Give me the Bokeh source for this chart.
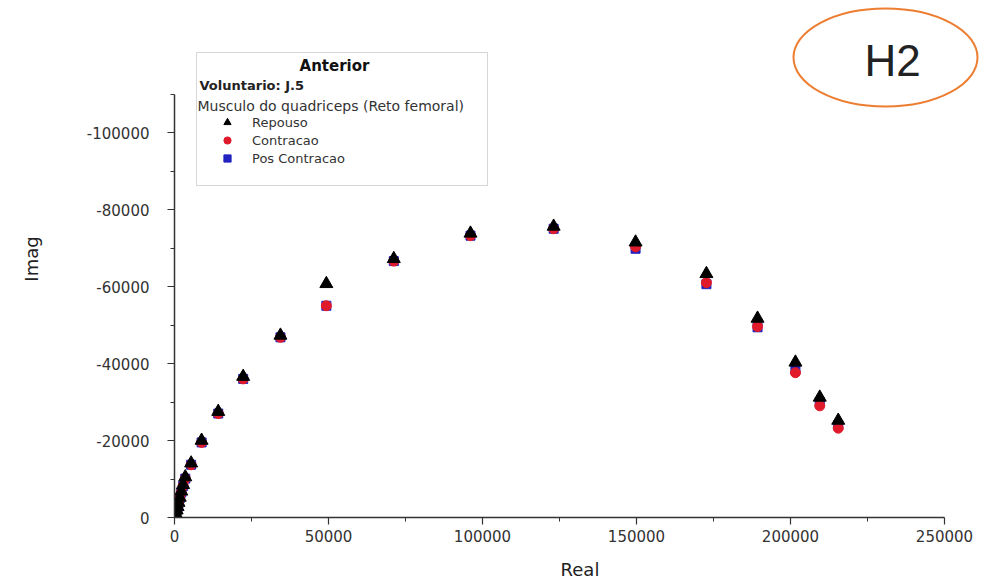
from bokeh.plotting import figure
from bokeh.models import (Range1d, FixedTicker, Legend, LegendItem, Label, BoxAnnotation)
from bokeh.embed import file_html
from bokeh.resources import INLINE

# ---------------- data ----------------
real_values = [150, 400, 700, 1000, 1300, 1700, 2200, 2800, 3500, 5400, 8800, 14200,
               22300, 34400, 49300, 71200, 96100, 123100, 149700, 172700, 189300,
               201600, 209500, 215500]
imag_repouso = [-300, -1000, -1900, -2800, -3900, -5200, -6800, -8500, -10500, -14100,
                -20000, -27500, -36600, -47300, -60700, -67200, -73800, -75600, -71500,
                -63300, -51700, -40300, -31200, -25200]
imag_contracao = [-250, -900, -1800, -2600, -3700, -5000, -6500, -8200, -10100, -13700,
                  -19500, -27000, -36000, -46800, -55000, -66600, -73200, -75000, -70300,
                  -61000, -49600, -37600, -29000, -23200]
imag_pos_contracao = [-250, -900, -1800, -2600, -3700, -5000, -6500, -8200, -10100, -13700,
                      -19500, -27000, -36000, -46800, -55000, -66600, -73200, -75000, -69800,
                      -60600, -49400, -38400, -30000, -24000]

series_names = ["Repouso", "Contracao", "Pos Contracao"]
x_ticks = [0, 50000, 100000, 150000, 200000, 250000]
x_tick_labels = ["0", "50000", "100000", "150000", "200000", "250000"]
x_minor = [25000, 75000, 125000, 175000, 225000]
y_ticks = [0, -20000, -40000, -60000, -80000, -100000]
y_tick_labels = ["0", "-20000", "-40000", "-60000", "-80000", "-100000"]
y_minor = [-10000, -30000, -50000, -70000, -90000, -110000]

# ---------------- geometry ----------------
W, H = 985, 582
FL, FB = 174, 517            # frame left / bottom in canvas px
PX_X = 770 / 250000          # px per unit (x)
PX_Y = 385 / 100000          # px per unit (y)
x_end = (W - FL) / PX_X
y_end = -FB / PX_Y


def dx(px):
    return (px - FL) / PX_X


def dy(py):
    return -(FB - py) / PX_Y


FONT = "DejaVu Sans"

p = figure(width=W, height=H, output_backend="svg", toolbar_location=None,
           x_range=Range1d(0, x_end), y_range=Range1d(0, y_end),
           min_border_left=FL, min_border_right=0, min_border_top=0,
           min_border_bottom=H - FB)
p.outline_line_color = None
p.grid.visible = False
p.background_fill_color = "white"
p.border_fill_color = "white"

for ax, label in ((p.xaxis[0], "Real"), (p.yaxis[0], "Imag")):
    ax.axis_label = label
    ax.axis_label_text_font = FONT
    ax.axis_label_text_font_size = "18px"
    ax.axis_label_text_font_style = "normal"
    ax.axis_label_text_color = "#222222"
    ax.major_label_text_font = FONT
    ax.major_label_text_font_size = "15px"
    ax.major_label_text_color = "#333333"
    ax.axis_line_color = "#333333"
    ax.axis_line_width = 1.5
    ax.major_tick_line_color = "#333333"
    ax.minor_tick_line_color = "#333333"
    ax.major_tick_line_width = 1.2
    ax.minor_tick_line_width = 1.0
    ax.major_tick_in = 0
    ax.major_tick_out = 7
    ax.minor_tick_in = 0
    ax.minor_tick_out = 4

p.xaxis[0].ticker = FixedTicker(ticks=x_ticks, minor_ticks=x_minor)
p.yaxis[0].ticker = FixedTicker(ticks=y_ticks, minor_ticks=y_minor)
p.xaxis[0].major_label_overrides = dict(zip(x_ticks, x_tick_labels))
p.yaxis[0].major_label_overrides = dict(zip(y_ticks, y_tick_labels))
p.xaxis[0].bounds = (0, 250000)
p.yaxis[0].bounds = (-110000, 0)
p.xaxis[0].major_label_standoff = 5
p.yaxis[0].major_label_standoff = 18
p.xaxis[0].axis_label_standoff = 14
p.yaxis[0].axis_label_standoff = 42

# ---------------- markers ----------------
r_pos = p.scatter(real_values, imag_pos_contracao, marker="square", size=9,
                  fill_color="#2222c0", line_color="#2222c0")
r_con = p.scatter(real_values, imag_contracao, marker="circle", size=10,
                  fill_color="#e01a2a", line_color="#e01a2a")
r_rep = p.scatter(real_values, imag_repouso, marker="triangle", size=13,
                  fill_color="black", line_color="black")

# ---------------- legend box ----------------
box = BoxAnnotation(left=dx(196), right=dx(487), top=dy(52), bottom=dy(185),
                    fill_color="white", fill_alpha=1.0, line_color="#777777",
                    line_width=1)
p.add_layout(box)

p.add_layout(Label(x=dx(334), y=dy(65), text="Anterior", text_font=FONT,
                   text_font_size="15px", text_font_style="bold",
                   text_align="center", text_baseline="middle", text_color="#111111"))
p.add_layout(Label(x=dx(199), y=dy(85), text="Voluntario: J.5", text_font=FONT,
                   text_font_size="13px", text_font_style="bold",
                   text_align="left", text_baseline="middle", text_color="#222222"))
p.add_layout(Label(x=dx(197), y=dy(105), text="Musculo do quadriceps (Reto femoral)",
                   text_font=FONT, text_font_size="14px",
                   text_align="left", text_baseline="middle", text_color="#333333"))

legend = Legend(items=[LegendItem(label=series_names[0], renderers=[r_rep]),
                       LegendItem(label=series_names[1], renderers=[r_con]),
                       LegendItem(label=series_names[2], renderers=[r_pos])],
                location=(217 - FL, FB - 167))
legend.padding = 0
legend.margin = 0
legend.spacing = 0
legend.glyph_width = 20
legend.glyph_height = 18
legend.label_height = 18
legend.label_standoff = 15
legend.border_line_color = None
legend.background_fill_alpha = 0
legend.label_text_font = FONT
legend.label_text_font_size = "13px"
legend.label_text_color = "#333333"
p.add_layout(legend, "center")

# ---------------- H2 badge ----------------
p.ellipse(x=[dx(885)], y=[dy(57)], width=184, height=98, width_units="screen",
          height_units="screen", fill_color=None, line_color="#ED7D31", line_width=2)
p.add_layout(Label(x=dx(892), y=dy(60), text="H2", text_font="Liberation Sans",
                   text_font_size="44px", text_align="center", text_baseline="middle",
                   text_color="#222222"))

open("out.html", "w").write(file_html(p, INLINE))
